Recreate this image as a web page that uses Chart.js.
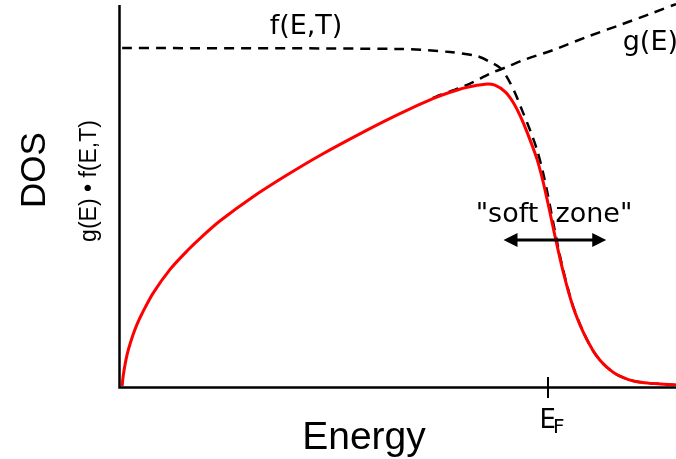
<!DOCTYPE html>
<html>
<head>
<meta charset="utf-8">
<script src="https://cdn.jsdelivr.net/npm/chart.js@4"></script>
<style>
  html, body { margin: 0; padding: 0; background: #fff; }
  #wrap { width: 676px; height: 459px; }
</style>
</head>
<body>
<div id="wrap"><canvas id="dos" width="676" height="459"></canvas></div>
<script>
// energy in units of E_F, density normalised to the plateau of f(E,T)
const productE = [0.005, 0.007, 0.010, 0.014, 0.019, 0.030, 0.040, 0.051, 0.077, 0.117, 0.157, 0.194, 0.234, 0.311, 0.390, 0.467, 0.577, 0.654, 0.731, 0.771, 0.811, 0.853, 0.876, 0.900, 0.918, 0.935, 0.951, 0.974, 0.988, 1.000, 1.016, 1.035, 1.058, 1.082, 1.105, 1.121, 1.138, 1.153, 1.168, 1.188, 1.208, 1.235, 1.262, 1.299];
const productY = [0.000, 0.025, 0.050, 0.078, 0.105, 0.150, 0.183, 0.213, 0.274, 0.345, 0.400, 0.445, 0.489, 0.560, 0.624, 0.682, 0.757, 0.806, 0.850, 0.869, 0.884, 0.893, 0.890, 0.870, 0.840, 0.799, 0.751, 0.672, 0.607, 0.540, 0.445, 0.340, 0.236, 0.160, 0.105, 0.077, 0.055, 0.040, 0.029, 0.019, 0.0125, 0.0085, 0.006, 0.003];

const fermiE = [0.005, 0.654, 0.771, 0.834, 0.864, 0.888, 0.904, 0.923, 0.939, 0.958, 0.974, 0.988, 1.000, 1.016, 1.035, 1.058, 1.082, 1.105, 1.121, 1.138, 1.153, 1.168, 1.188, 1.208, 1.235, 1.262, 1.299];
const fermiY = [1.000, 0.997, 0.988, 0.976, 0.959, 0.941, 0.914, 0.867, 0.817, 0.757, 0.700, 0.633, 0.563, 0.458, 0.345, 0.238, 0.161, 0.105, 0.077, 0.055, 0.040, 0.029, 0.019, 0.0125, 0.0085, 0.006, 0.003];

const dosE = [0.731, 0.748, 0.794, 0.825, 0.864, 0.904, 0.942, 1.012, 1.091, 1.168, 1.245, 1.299];
const dosY = [0.852, 0.861, 0.882, 0.899, 0.924, 0.944, 0.964, 0.994, 1.033, 1.068, 1.104, 1.130];

const fermiLevel = 1.0;
const softZone = [0.896, 1.136];   // arrow ends
const softZoneY = 0.432;

const pts = (xs, ys) => xs.map((x, i) => ({ x: x, y: ys[i] }));

// axes, E_F tick and all the annotations
const decorations = {
  id: 'decorations',
  afterDraw(chart) {
    const ctx = chart.ctx;
    const a = chart.chartArea;
    const sx = chart.scales.x, sy = chart.scales.y;
    ctx.save();
    ctx.strokeStyle = '#000';
    ctx.fillStyle = '#000';

    // axis lines
    ctx.lineWidth = 2.5;
    ctx.beginPath();
    ctx.moveTo(a.left - 0.5, 5);
    ctx.lineTo(a.left - 0.5, a.bottom + 1.5);
    ctx.lineTo(676, a.bottom + 1.5);
    ctx.stroke();

    // E_F tick
    const xf = Math.round(sx.getPixelForValue(fermiLevel));
    ctx.lineWidth = 2;
    ctx.beginPath();
    ctx.moveTo(xf, a.bottom - 9);
    ctx.lineTo(xf, a.bottom + 12);
    ctx.stroke();

    ctx.textBaseline = 'alphabetic';
    ctx.font = '26px "DejaVu Sans"';
    ctx.textAlign = 'right';
    ctx.fillText('E', xf + 8, 428);
    ctx.font = '20px "DejaVu Sans"';
    ctx.textAlign = 'left';
    ctx.fillText('F', xf + 5, 433);

    // curve labels
    ctx.font = '27px "DejaVu Sans"';
    ctx.textAlign = 'center';
    ctx.fillText('f(E,T)', 306, 34);
    ctx.textAlign = 'right';
    ctx.fillText('g(E)', 678, 50);
    ctx.textAlign = 'center';
    ctx.fillText('"soft  zone"', 554, 222);

    // double arrow across the soft zone
    const x1 = sx.getPixelForValue(softZone[0]);
    const x2 = sx.getPixelForValue(softZone[1]);
    const ya = sy.getPixelForValue(softZoneY);
    ctx.lineWidth = 3;
    ctx.beginPath();
    ctx.moveTo(x1 + 8, ya);
    ctx.lineTo(x2 - 8, ya);
    ctx.stroke();
    ctx.beginPath();
    ctx.moveTo(x1, ya);
    ctx.lineTo(x1 + 14, ya - 7);
    ctx.lineTo(x1 + 14, ya + 7);
    ctx.closePath();
    ctx.moveTo(x2, ya);
    ctx.lineTo(x2 - 14, ya - 7);
    ctx.lineTo(x2 - 14, ya + 7);
    ctx.closePath();
    ctx.fill();

    // axis titles
    ctx.font = '39px "Liberation Sans"';
    ctx.textAlign = 'center';
    ctx.fillText('Energy', 364, 449);

    ctx.save();
    ctx.translate(45, 170);
    ctx.rotate(-Math.PI / 2);
    ctx.font = '35px "Liberation Sans"';
    ctx.fillText('DOS', 0, 0);
    ctx.restore();

    ctx.save();
    ctx.translate(96, 181);
    ctx.rotate(-Math.PI / 2);
    ctx.font = '23px "Liberation Sans"';
    ctx.fillText('g(E) \u2022 f(E,T)', 0, 0);
    ctx.restore();

    ctx.restore();
  }
};

new Chart(document.getElementById('dos'), {
  type: 'line',
  data: {
    datasets: [
      {
        label: 'g(E)·f(E,T)',
        data: pts(productE, productY),
        borderColor: '#ff0000',
        borderWidth: 3,
        pointRadius: 0,
        tension: 0.3,
        order: 0
      },
      {
        label: 'f(E,T)',
        data: pts(fermiE, fermiY),
        borderColor: '#000',
        borderWidth: 2.5,
        borderDash: [10, 7],
        pointRadius: 0,
        tension: 0.3,
        order: 1
      },
      {
        label: 'g(E)',
        data: pts(dosE, dosY),
        borderColor: '#000',
        borderWidth: 2.5,
        borderDash: [10, 7],
        pointRadius: 0,
        tension: 0.3,
        order: 2
      }
    ]
  },
  options: {
    responsive: false,
    animation: false,
    devicePixelRatio: 1,
    layout: { padding: { left: 120, right: 0, top: 0, bottom: 73 } },
    scales: {
      x: { type: 'linear', min: 0, max: 1.299, display: false },
      y: { type: 'linear', min: 0, max: 1.142, display: false }
    },
    plugins: {
      legend: { display: false },
      tooltip: { enabled: false }
    }
  },
  plugins: [decorations]
});
</script>
</body>
</html>
